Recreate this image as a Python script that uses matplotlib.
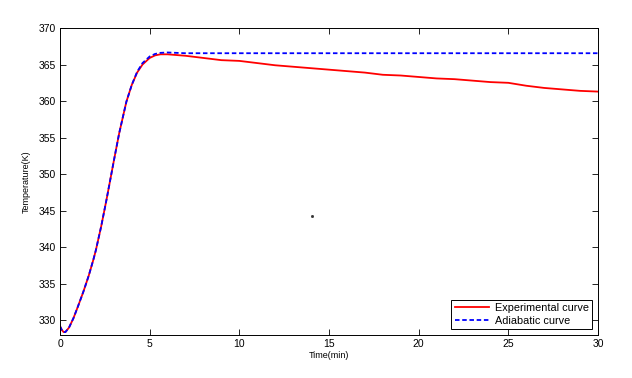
import matplotlib
matplotlib.use("Agg")
import matplotlib.pyplot as plt

plt.rcParams['font.family'] = ['Liberation Sans', 'DejaVu Sans']

# Experimental curve (time in min, temperature in K)
exp_time = [0.0, 0.1, 0.2, 0.3, 0.5, 0.75, 1.0, 1.3, 1.6, 1.86, 2.0, 2.3, 2.6, 3.0, 3.3,
            3.7, 4.0, 4.3, 4.6, 5.0, 5.3, 5.6, 6.0, 7.0, 8.0, 9.0, 10.0, 11.0,
            12.0, 13.0, 14.0, 15.0, 16.0, 17.0, 18.0, 19.0, 20.0, 21.0, 22.0,
            23.0, 24.0, 25.0, 26.0, 27.0, 28.0, 29.0, 30.0]
exp_temp = [329.2, 328.7, 328.4, 328.4, 329.0, 330.3, 331.9, 333.9, 336.1, 338.3, 339.6,
            342.9, 346.6, 351.8, 355.6, 359.9, 362.2, 363.9, 365.0, 365.9, 366.25,
            366.4, 366.4, 366.2, 365.9, 365.6, 365.5, 365.2, 364.9, 364.7, 364.5,
            364.3, 364.1, 363.9, 363.6, 363.5, 363.3, 363.1, 363.0, 362.8, 362.6,
            362.5, 362.1, 361.8, 361.6, 361.4, 361.3]

# Adiabatic curve
adi_time = [0.0, 0.1, 0.2, 0.3, 0.5, 0.75, 1.0, 1.3, 1.6, 1.86, 2.0, 2.3, 2.6, 3.0, 3.3,
            3.7, 4.0, 4.3, 4.6, 5.0, 5.3, 5.6, 6.0, 6.5, 7.0, 8.0, 10.0, 15.0,
            20.0, 25.0, 30.0]
adi_temp = [329.2, 328.7, 328.4, 328.4, 329.0, 330.3, 331.9, 333.9, 336.1, 338.3, 339.6,
            342.9, 346.6, 351.8, 355.6, 359.9, 362.2, 364.0, 365.2, 366.1, 366.45,
            366.6, 366.65, 366.6, 366.55, 366.55, 366.55, 366.55, 366.55, 366.55,
            366.55]

# Stray point visible in the figure
dot_time = [14.05]
dot_temp = [344.3]

x_ticks = [0, 5, 10, 15, 20, 25, 30]
y_ticks = [330, 335, 340, 345, 350, 355, 360, 365, 370]

fig = plt.figure(figsize=(6.32, 3.78), dpi=100)
ax = fig.add_axes([60/632, 43/378, 538/632, 307/378])

ax.plot(exp_time, exp_temp, color='red', linewidth=1.3, label='Experimental curve')
ax.plot(adi_time, adi_temp, color='blue', linewidth=1.3, linestyle=(0, (2.5, 1.5)),
        label='Adiabatic curve')
ax.plot(dot_time, dot_temp, linestyle='none', marker='s', markersize=1.0,
        color='#333333')

ax.set_xlim(0, 30)
ax.set_ylim(328, 370)
ax.set_xticks(x_ticks)
ax.set_yticks(y_ticks)
ax.tick_params(direction='in', length=4, width=0.6, labelsize=7.5,
               top=True, right=True, pad=3)
for s in ax.spines.values():
    s.set_linewidth(0.7)
ax.set_xlabel('Time(min)', fontsize=6.5, labelpad=1)
ax.set_ylabel('Temperature(K)', fontsize=6.5, labelpad=6)

leg = ax.legend(loc='lower right', fontsize=7.8, frameon=True, fancybox=False,
                edgecolor='black', framealpha=1, borderpad=0.3, labelspacing=0.25,
                handlelength=3.2, handletextpad=0.5, borderaxespad=0.55)
leg.get_frame().set_linewidth(0.7)

fig.savefig('out.png', dpi=100, facecolor='white')
